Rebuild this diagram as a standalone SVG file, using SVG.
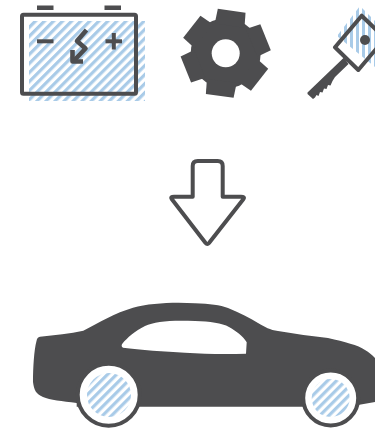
<svg xmlns="http://www.w3.org/2000/svg" width="375" height="429" viewBox="0 0 375 429">
<style>
.d{fill:#4d4d4f}
.o{fill:none;stroke:#4d4d4f;stroke-width:4;stroke-linejoin:round;stroke-linecap:butt}
</style>
<defs>
<pattern id="diag" width="6.4" height="6.4" patternUnits="userSpaceOnUse" patternTransform="rotate(45)">
<rect width="3.2" height="6.4" fill="#a9cbe8"/>
</pattern>
<pattern id="vert" width="6" height="10" patternUnits="userSpaceOnUse" patternTransform="translate(338 0)">
<rect width="3" height="10" fill="#a9cbe8"/>
</pattern>
<polygon id="tooth" points="-15,-28 -14,-43 14,-43 15,-28" class="d"/>
</defs>
<rect width="375" height="429" fill="#fff"/>
<g id="battery">
<rect x="29" y="21" width="116" height="80" fill="url(#diag)"/>
<rect x="22" y="14.7" width="114" height="79" rx="1.5" class="o"/>
<rect x="37" y="5.500" width="16.500" height="4.500" class="d"/>
<rect x="104.500" y="5.500" width="16.500" height="4.500" class="d"/>
<rect x="37" y="39.300" width="16.500" height="4" class="d"/>
<rect x="105.500" y="39.300" width="16.500" height="4" class="d"/>
<rect x="111.800" y="33" width="4" height="16.500" class="d"/>
<path d="M86.500 30L77 41L85.500 48.500L74.500 60" class="o" style="stroke-width:4.600"/>
<path d="M72.500 50V61.500H83" class="o" style="stroke-width:4.600"/>
</g>
<g id="gear">
<circle cx="225.700" cy="53.300" r="35" class="d"/>
<g transform="translate(225.700 53.300) rotate(8)">
<use href="#tooth"/>
<use href="#tooth" transform="rotate(60)"/>
<use href="#tooth" transform="rotate(120)"/>
<use href="#tooth" transform="rotate(180)"/>
<use href="#tooth" transform="rotate(240)"/>
<use href="#tooth" transform="rotate(300)"/>
</g>
<circle cx="225.700" cy="53.300" r="14" fill="#fff"/>
</g>
<g id="key">
<polygon points="360,6 337,36 375,67 375,21" fill="url(#vert)"/>
<polygon points="361.700,15.700 335,47.300 358.300,70 385,38.400" class="o"/>
<circle cx="365" cy="40" r="5" class="d"/>
<path d="M344 57.500L307.500 92.500L307.500 94L313 99L315 97.500L316.500 95L318.500 96L320 92L322.500 92.500L324 88.500L326.500 89L328 85L330.500 85.500L332.500 81L335 77L348.500 64Z" class="d"/>
</g>
<g id="connectors">
<path d="M192.700 196.700V166Q192.700 161 197.700 161H217.700Q222.700 161 222.700 166V196.700H241Q245 196.700 243.500 199L209 243Q207.300 245 205.600 243L171.700 199Q170.200 196.700 174 196.700Z" class="o" style="fill:#fff"/>
</g>
<g id="car">
<path d="M40 336.700C55 335 70 334 83.300 330.700C100 322 115 313 133 307.700C150 303 175 302 195 303.300C210 304 220 305 228 308C240 313 250 318 258 323C265 327 270 330 278 331C295 334 312 336 328 338C345 342 358 345 365 350C369 352 372 355 375 358V402L358 405L340 406.700H76.700L76.700 403C62 401 50 400 43 397C36 394 34 390 33 382C33 368 34 350 36.500 341C37 338 38 337 40 336.700Z" class="d"/>
<path d="M123 347.700C121 346.500 121.500 345 122.500 343.500C127 338 135 331 145 326C155 321.500 170 320 195 321C210 321.500 222 323 229 327C236 331 243 336 246.700 342.300L246 353.700C225 354.500 205 354 185 352.800C165 351.500 140 350 123 347.700Z" fill="#fff"/>
</g>
<g id="wheel-rear">
<circle cx="108.700" cy="394.700" r="31" fill="#fff" stroke="#4d4d4f" stroke-width="4"/>
<circle cx="109" cy="395" r="22" fill="url(#diag)"/>
</g>
<g id="wheel-front">
<circle cx="330.700" cy="398" r="27.500" fill="#fff" stroke="#4d4d4f" stroke-width="4"/>
<circle cx="330.700" cy="398" r="19" fill="url(#diag)"/>
</g>
</svg>
